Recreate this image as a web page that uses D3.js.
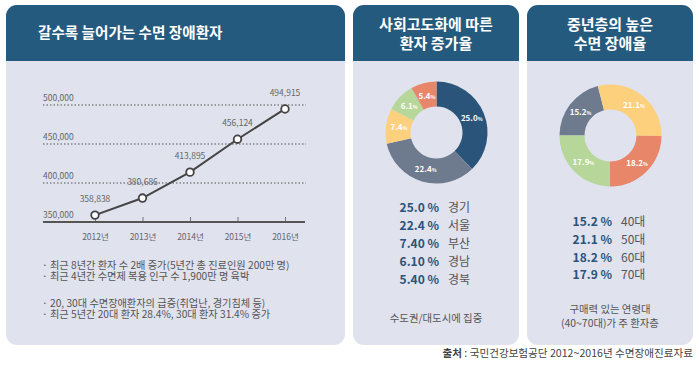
<!DOCTYPE html>
<html><head><meta charset="utf-8">
<script src="https://cdn.jsdelivr.net/npm/d3@7/dist/d3.min.js"></script>
<style>
html,body{margin:0;padding:0;background:#fff;}
svg{display:block;font-family:"Noto Sans CJK KR","Noto Sans",sans-serif;}
</style></head>
<body><svg id="c" width="699" height="372"></svg>
<script>
// ---- data ----
const years = ["2012년","2013년","2014년","2015년","2016년"];
const patients = [358838, 380686, 413895, 456124, 494915];
const yTicks = [350000, 400000, 450000, 500000];

const regions = ["경기","서울","부산","경남","경북"];
const regionValues = [25.0, 22.4, 7.4, 6.1, 5.4];
const regionLegend = ["25.0 %","22.4 %","7.40 %","6.10 %","5.40 %"];
const regionColors = ["#2a5479","#6e7a8d","#fdd07e","#b6d69a","#e8866a"];

const ages = ["40대","50대","60대","70대"];
const ageValues = [15.2, 21.1, 18.2, 17.9];
const ageLegend = ["15.2 %","21.1 %","18.2 %","17.9 %"];
const ageColors = ["#6e7a8d","#fdd07e","#e8866a","#b6d69a"];

const notes1 = ["· 최근 8년간 환자 수 2배 증가(5년간 총 진료인원 200만 명)","· 최근 4년간 수면제 복용 인구 수 1,900만 명 육박"];
const notes2 = ["· 20, 30대 수면장애환자의 급증(취업난, 경기침체 등)","· 최근 5년간 20대 환자 28.4%, 30대 환자 31.4% 증가"];

// ---- drawing ----
const svg = d3.select("#c");
const HEAD = "#245a7e", BODY = "#e0e2ee";

function panel(x0, x1, top, hb, bottom) {
  const r = 11;
  svg.append("rect").attr("x", x0).attr("y", top).attr("width", x1 - x0).attr("height", bottom - top)
    .attr("rx", r).attr("fill", BODY);
  const p = d3.path();
  p.moveTo(x0, hb); p.lineTo(x0, top + r); p.arcTo(x0, top, x0 + r, top, r);
  p.lineTo(x1 - r, top); p.arcTo(x1, top, x1, top + r, r); p.lineTo(x1, hb); p.closePath();
  svg.append("path").attr("d", p.toString()).attr("fill", HEAD);
}
panel(6, 345, 5, 61, 345);
panel(353, 519, 5, 61, 345);
panel(527, 693, 5, 61, 345);

// titles
svg.append("text").attr("x", 38).attr("y", 38).attr("fill", "#fff")
  .attr("font-size", 14.6).attr("font-weight", 700).text("갈수록 늘어가는 수면 장애환자");
[["사회고도화에 따른","환자 증가율",436],["중년층의 높은","수면 장애율",610]].forEach(t => {
  const tt = svg.append("text").attr("text-anchor", "middle").attr("fill", "#fff")
    .attr("font-size", 15).attr("font-weight", 700);
  [t[0], t[1]].forEach((s, i) => tt.append("tspan").attr("x", t[2]).attr("y", 30 + i * 19).text(s));
});

// ---- line chart ----
const x = d3.scalePoint().domain(years).range([95, 285]);
const y = d3.scaleLinear().domain([350000, 500000]).range([222, 105]);

const g = svg.append("g");
yTicks.filter(v => v > 350000).forEach(v => {
  g.append("line").attr("x1", 43).attr("x2", 306).attr("y1", y(v)).attr("y2", y(v))
    .attr("stroke", "#555").attr("stroke-width", 1.2).attr("stroke-dasharray", "1.5,2");
});
yTicks.forEach(v => {
  g.append("text").attr("x", 43).attr("y", y(v) - 4).attr("font-size", 8.5).attr("fill", "#666")
    .text(d3.format(",")(v));
});
const xa = g.append("g").attr("transform", `translate(0,${y(350000)})`)
  .call(d3.axisBottom(x).tickSize(-5).tickPadding(10));
xa.select(".domain").remove();
xa.selectAll(".tick line").attr("stroke", "#777").attr("stroke-width", 1);
xa.selectAll(".tick text").attr("font-size", 8.5).attr("fill", "#666")
  .attr("font-family", "\"Noto Sans CJK KR\",sans-serif").attr("dy", "0.9em");
g.append("line").attr("x1", 43).attr("x2", 305).attr("y1", y(350000)).attr("y2", y(350000))
  .attr("stroke", "#555").attr("stroke-width", 2);

const line = d3.line().x((d, i) => x(years[i])).y(d => y(d));
g.append("path").datum(patients).attr("d", line).attr("fill", "none")
  .attr("stroke", "#444").attr("stroke-width", 2);
g.selectAll("circle.pt").data(patients).join("circle").attr("class", "pt")
  .attr("cx", (d, i) => x(years[i])).attr("cy", d => y(d)).attr("r", 3.8)
  .attr("fill", "#fff").attr("stroke", "#444").attr("stroke-width", 1.8);
g.selectAll("text.val").data(patients).join("text").attr("class", "val")
  .attr("x", (d, i) => x(years[i])).attr("y", d => y(d) - 13)
  .attr("text-anchor", "middle").attr("font-size", 8.5).attr("fill", "#666")
  .text(d => d3.format(",")(d));

// notes (each block one text element, lines as tspans)
function block(lines, y0, step) {
  const t = svg.append("text").attr("font-size", 10.2).attr("fill", "#555");
  lines.forEach((s, i) => t.append("tspan").attr("x", 42).attr("y", y0 + i * step).text(s));
}
block(notes1, 269, 11.3);
block(notes2, 306.5, 11.3);

// ---- donuts ----
function donut(cx, cy, values, colors, startA) {
  const pie = d3.pie().sort(null).startAngle(startA).endAngle(startA + 2 * Math.PI);
  const arcs = pie(values);
  const arc = d3.arc().innerRadius(26).outerRadius(51);
  const lab = d3.arc().innerRadius(38).outerRadius(38);
  const dg = svg.append("g").attr("transform", `translate(${cx},${cy})`);
  dg.selectAll("path").data(arcs).join("path").attr("d", arc).attr("fill", (d, i) => colors[i]);
  const t = dg.selectAll("text").data(arcs).join("text")
    .attr("transform", d => `translate(${lab.centroid(d)})`)
    .attr("text-anchor", "middle").attr("dy", "0.35em")
    .attr("fill", "#fff").attr("font-weight", 700).attr("font-size", 8);
  t.append("tspan").text(d => d.data.toFixed(1));
  t.append("tspan").attr("font-size", 5).text("%");
}
donut(436.5, 132.5, regionValues, regionColors, 0);
donut(610.5, 135.5, ageValues, ageColors, -Math.PI / 2);

// legends
function legend(xv, xl, y0, step, vals, labs) {
  vals.forEach((v, i) => {
    svg.append("text").attr("x", xv).attr("y", y0 + i * step).attr("text-anchor", "end")
      .attr("font-size", 12).attr("font-weight", 700).attr("fill", "#2a5479").text(v);
    svg.append("text").attr("x", xl).attr("y", y0 + i * step)
      .attr("font-size", 12).attr("fill", "#555").text(labs[i]);
  });
}
legend(439, 448, 212, 18, regionLegend, regions);
legend(612, 621, 226, 17.8, ageLegend, ages);

svg.append("text").attr("x", 436).attr("y", 322).attr("text-anchor", "middle")
  .attr("font-size", 10.4).attr("fill", "#555").text("수도권/대도시에 집중");
const sub3 = svg.append("text").attr("text-anchor", "middle").attr("font-size", 10.4).attr("fill", "#555");
["구매력 있는 연령대","(40~70대)가 주 환자층"].forEach((s, i) =>
  sub3.append("tspan").attr("x", 610).attr("y", 312.5 + i * 14).text(s));

// source
const src = svg.append("text").attr("x", 693).attr("y", 357).attr("text-anchor", "end")
  .attr("font-size", 10.6).attr("fill", "#444");
src.append("tspan").attr("font-weight", 700).text("출처");
src.append("tspan").text(" : 국민건강보험공단 2012~2016년 수면장애진료자료");
</script>
</body></html>
